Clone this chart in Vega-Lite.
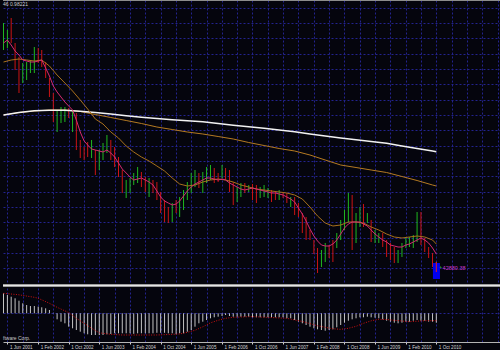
{
"$schema": "https://vega.github.io/schema/vega-lite/v6.json",
"background": "#05050d",
"padding": 0,
"spacing": 0,
"config": {"view": {"stroke": null}, "axis": {"title": null}},
"datasets": {
"px": [
{"d":"2001-05-01","h":261,"l":234,"dir":"up","f":241,"m":222,"s":169,"w":169,"hi":20,"sg":20},
{"d":"2001-06-01","h":254,"l":236,"dir":"up","f":244,"hi":18.3},
{"d":"2001-07-01","h":266,"l":241,"dir":"dn","f":239,"m":224,"hi":16.6},
{"d":"2001-08-01","h":241,"l":214,"dir":"dn","f":233,"hi":15},
{"d":"2001-09-01","h":227,"l":191,"dir":"dn","f":229,"m":225,"s":171.5,"w":171.5,"hi":12.6,"sg":18.5},
{"d":"2001-10-01","h":221,"l":201,"dir":"up","f":224,"hi":10},
{"d":"2001-11-01","h":222,"l":204,"dir":"up","f":223,"m":224,"hi":8.3},
{"d":"2001-12-01","h":224,"l":211,"dir":"up","f":222,"hi":7.3},
{"d":"2002-01-01","h":237,"l":211,"dir":"up","f":222,"m":223,"s":173,"w":173.2,"hi":7.3,"sg":16},
{"d":"2002-02-01","h":236,"l":221,"dir":"dn","f":223,"hi":6.6,"sg":15},
{"d":"2002-03-01","h":234,"l":217,"dir":"dn","f":224,"m":224,"hi":6},
{"d":"2002-04-01","h":222,"l":206,"dir":"dn","f":216,"hi":5},
{"d":"2002-05-01","h":206,"l":187,"dir":"dn","f":208,"m":218,"s":174,"w":173.8,"hi":3.3,"sg":10},
{"d":"2002-06-01","h":191,"l":162,"dir":"dn","f":198,"hi":0.5},
{"d":"2002-07-01","h":174,"l":152,"dir":"up","f":192,"m":209,"hi":-6,"sg":6},
{"d":"2002-08-01","h":177,"l":161,"dir":"up","f":187,"hi":-8.4},
{"d":"2002-09-01","h":177,"l":162,"dir":"up","f":182,"m":201,"s":174,"w":173.7,"hi":-10},
{"d":"2002-10-01","h":176,"l":166,"dir":"dn","f":178,"hi":-13.4,"sg":0.7},
{"d":"2002-11-01","h":174,"l":152,"dir":"up","f":174,"m":193,"hi":-15},
{"d":"2002-12-01","h":171,"l":134,"dir":"dn","f":164,"hi":-16.7,"sg":-5},
{"d":"2003-01-01","h":144,"l":126,"dir":"dn","f":152,"m":184,"s":172.5,"w":172.8,"hi":-18.4},
{"d":"2003-02-01","h":137,"l":124,"dir":"dn","f":143,"hi":-20,"sg":-10},
{"d":"2003-03-01","h":142,"l":127,"dir":"dn","f":139,"m":175,"hi":-21},
{"d":"2003-04-01","h":144,"l":126,"dir":"up","f":135,"hi":-21.7,"sg":-15},
{"d":"2003-05-01","h":134,"l":109,"dir":"dn","f":134,"m":165,"s":169.5,"w":171.5,"hi":-21.7},
{"d":"2003-06-01","h":134,"l":114,"dir":"up","f":133,"hi":-21.7,"sg":-19.5},
{"d":"2003-07-01","h":141,"l":124,"dir":"up","f":132,"m":160,"hi":-21.7},
{"d":"2003-08-01","h":149,"l":131,"dir":"up","f":134,"hi":-21},
{"d":"2003-09-01","h":144,"l":124,"dir":"dn","f":131,"m":152,"s":166.5,"w":170,"hi":-20.7,"sg":-21},
{"d":"2003-10-01","h":137,"l":117,"dir":"dn","f":127,"hi":-20},
{"d":"2003-11-01","h":127,"l":107,"dir":"dn","f":121,"m":146,"hi":-20},
{"d":"2003-12-01","h":114,"l":91,"dir":"dn","f":115,"hi":-20,"sg":-21.7},
{"d":"2004-01-01","h":104,"l":86,"dir":"up","f":111,"m":138,"s":163.5,"w":168.2,"hi":-20},
{"d":"2004-02-01","h":106,"l":91,"dir":"up","f":107,"hi":-20},
{"d":"2004-03-01","h":111,"l":99,"dir":"up","f":104,"m":132,"hi":-20.5},
{"d":"2004-04-01","h":117,"l":101,"dir":"up","f":105,"hi":-20},
{"d":"2004-05-01","h":112,"l":97,"dir":"dn","f":106,"m":127,"s":160.5,"w":166.7,"hi":-20},
{"d":"2004-06-01","h":107,"l":92,"dir":"dn","f":104,"hi":-20},
{"d":"2004-07-01","h":106,"l":87,"dir":"up","f":102,"m":123,"hi":-20},
{"d":"2004-08-01","h":104,"l":91,"dir":"dn","f":99,"hi":-20},
{"d":"2004-09-01","h":102,"l":84,"dir":"dn","f":93,"m":118,"s":157,"w":165.5,"hi":-19.5,"sg":-21.7},
{"d":"2004-10-01","h":92,"l":71,"dir":"dn","f":87,"hi":-19.5},
{"d":"2004-11-01","h":84,"l":62,"dir":"dn","f":83,"m":113,"hi":-19.5},
{"d":"2004-12-01","h":77,"l":61,"dir":"dn","f":81,"hi":-20},
{"d":"2005-01-01","h":81,"l":62,"dir":"up","f":79,"m":106,"s":154.5,"w":164.3,"hi":-20},
{"d":"2005-02-01","h":84,"l":71,"dir":"dn","f":80,"hi":-21},
{"d":"2005-03-01","h":87,"l":67,"dir":"up","f":83,"m":100,"hi":-20,"sg":-20.7},
{"d":"2005-04-01","h":94,"l":74,"dir":"up","f":88,"hi":-20},
{"d":"2005-05-01","h":102,"l":84,"dir":"up","f":93,"m":98,"s":152,"w":163.2,"hi":-18.4,"sg":-19},
{"d":"2005-06-01","h":111,"l":91,"dir":"up","f":97,"hi":-16.7},
{"d":"2005-07-01","h":114,"l":97,"dir":"up","f":100,"m":99,"hi":-13.4,"sg":-17},
{"d":"2005-08-01","h":111,"l":96,"dir":"dn","f":102,"hi":-10},
{"d":"2005-09-01","h":112,"l":91,"dir":"up","f":104,"m":102,"s":150,"w":162.3,"hi":-8.4,"sg":-13.5},
{"d":"2005-10-01","h":117,"l":101,"dir":"up","f":106,"hi":-6.7},
{"d":"2005-11-01","h":119,"l":104,"dir":"up","f":106,"m":104,"hi":-5,"sg":-9.5},
{"d":"2005-12-01","h":116,"l":101,"dir":"dn","f":105,"hi":-4},
{"d":"2006-01-01","h":111,"l":102,"dir":"dn","f":104,"m":105,"s":147.5,"w":160.5,"hi":-3.4,"sg":-7},
{"d":"2006-02-01","h":119,"l":106,"dir":"up","f":105,"hi":-2.7},
{"d":"2006-03-01","h":116,"l":104,"dir":"dn","f":104,"m":104,"hi":-1.7,"sg":-5},
{"d":"2006-04-01","h":114,"l":92,"dir":"dn","f":101,"hi":-2.7},
{"d":"2006-05-01","h":102,"l":79,"dir":"dn","f":99,"m":102,"s":145,"w":158.7,"hi":-3.4,"sg":-4},
{"d":"2006-06-01","h":97,"l":82,"dir":"up","f":97,"hi":-3.4},
{"d":"2006-07-01","h":101,"l":87,"dir":"up","f":95,"m":99,"hi":-3.4},
{"d":"2006-08-01","h":101,"l":91,"dir":"dn","f":94,"hi":-3.4},
{"d":"2006-09-01","h":99,"l":92,"dir":"up","f":95,"m":97,"s":141.5,"w":157.2,"hi":-3.4,"sg":-3.4},
{"d":"2006-10-01","h":100,"l":84,"dir":"dn","f":96,"hi":-4},
{"d":"2006-11-01","h":99,"l":81,"dir":"dn","f":95,"m":95,"hi":-4,"sg":-3.5},
{"d":"2006-12-01","h":97,"l":86,"dir":"up","f":94,"hi":-4},
{"d":"2007-01-01","h":99,"l":87,"dir":"up","f":93,"m":94,"s":138.5,"w":155.7,"hi":-4},
{"d":"2007-02-01","h":96,"l":86,"dir":"up","f":92,"hi":-4},
{"d":"2007-03-01","h":94,"l":82,"dir":"dn","f":91,"m":93,"hi":-4},
{"d":"2007-04-01","h":92,"l":84,"dir":"dn","f":91,"hi":-4},
{"d":"2007-05-01","h":94,"l":84,"dir":"up","f":90,"m":92,"s":135.5,"w":154,"hi":-4},
{"d":"2007-06-01","h":92,"l":86,"dir":"dn","f":89,"hi":-4},
{"d":"2007-07-01","h":91,"l":81,"dir":"dn","f":87,"m":91,"hi":-5,"sg":-5},
{"d":"2007-08-01","h":87,"l":77,"dir":"up","f":85,"hi":-5},
{"d":"2007-09-01","h":87,"l":69,"dir":"dn","f":82,"m":89,"s":133,"w":152.2,"hi":-6.7},
{"d":"2007-10-01","h":81,"l":67,"dir":"dn","f":76,"hi":-8.4},
{"d":"2007-11-01","h":71,"l":51,"dir":"dn","f":70,"m":85,"hi":-10,"sg":-8.2},
{"d":"2007-12-01","h":67,"l":44,"dir":"dn","f":63,"hi":-11.7},
{"d":"2008-01-01","h":54,"l":44,"dir":"dn","f":55,"m":77,"s":129,"w":150,"hi":-13.4},
{"d":"2008-02-01","h":44,"l":30,"dir":"dn","f":48,"hi":-15},
{"d":"2008-03-01","h":36,"l":11,"dir":"dn","f":43,"m":68,"hi":-16,"sg":-12.5},
{"d":"2008-04-01","h":34,"l":17,"dir":"up","f":39,"hi":-16.7},
{"d":"2008-05-01","h":41,"l":22,"dir":"up","f":38,"m":61,"s":124,"w":148,"hi":-17.4},
{"d":"2008-06-01","h":39,"l":26,"dir":"dn","f":38,"hi":-16.7},
{"d":"2008-07-01","h":44,"l":22,"dir":"dn","f":40,"m":58,"hi":-16,"sg":-15.5},
{"d":"2008-08-01","h":51,"l":36,"dir":"up","f":44,"hi":-14},
{"d":"2008-09-01","h":64,"l":44,"dir":"up","f":50,"m":59,"s":119,"w":146,"hi":-11.7,"sg":-16},
{"d":"2008-10-01","h":74,"l":54,"dir":"up","f":56,"hi":-9.4},
{"d":"2008-11-01","h":91,"l":62,"dir":"up","f":60,"m":62,"hi":-7.4,"sg":-15},
{"d":"2008-12-01","h":89,"l":34,"dir":"dn","f":62,"hi":-6},
{"d":"2009-01-01","h":71,"l":41,"dir":"up","f":62,"m":62,"s":116.5,"w":144.2,"hi":-5,"sg":-13},
{"d":"2009-02-01","h":77,"l":57,"dir":"up","f":62,"hi":-4},
{"d":"2009-03-01","h":80,"l":57,"dir":"dn","f":60,"m":61,"hi":-4,"sg":-10},
{"d":"2009-04-01","h":71,"l":61,"dir":"up","f":58,"hi":-3.4},
{"d":"2009-05-01","h":64,"l":42,"dir":"dn","f":54,"m":57,"s":114,"w":142.5,"hi":-4,"sg":-7.5},
{"d":"2009-06-01","h":54,"l":41,"dir":"up","f":50,"hi":-4.4},
{"d":"2009-07-01","h":51,"l":41,"dir":"up","f":47,"m":54,"hi":-5,"sg":-6},
{"d":"2009-08-01","h":51,"l":37,"dir":"dn","f":44,"hi":-6},
{"d":"2009-09-01","h":44,"l":27,"dir":"dn","f":42,"m":50,"s":111.5,"w":140.7,"hi":-7.4,"sg":-6.2},
{"d":"2009-10-01","h":41,"l":24,"dir":"dn","f":39,"hi":-8.4},
{"d":"2009-11-01","h":37,"l":21,"dir":"dn","f":38,"m":47,"hi":-9.4,"sg":-7},
{"d":"2009-12-01","h":34,"l":21,"dir":"up","f":37,"hi":-10},
{"d":"2010-01-01","h":41,"l":27,"dir":"up","f":37,"m":46,"s":107.5,"w":138,"hi":-9.4},
{"d":"2010-02-01","h":47,"l":36,"dir":"up","f":39,"hi":-8.4},
{"d":"2010-03-01","h":47,"l":37,"dir":"up","f":40,"m":47,"hi":-8.4,"sg":-8.4},
{"d":"2010-04-01","h":49,"l":36,"dir":"up","f":42,"hi":-7.4},
{"d":"2010-05-01","h":72,"l":42,"dir":"up","f":44,"m":48,"s":103.5,"w":135.5,"hi":-6.7},
{"d":"2010-06-01","h":72,"l":39,"dir":"dn","f":46,"hi":-7.4},
{"d":"2010-07-01","h":46,"l":32,"dir":"dn","f":44,"m":47,"hi":-7.4,"sg":-7.4},
{"d":"2010-08-01","h":37,"l":26,"dir":"dn","f":41,"hi":-8.4},
{"d":"2010-09-01","h":31,"l":17,"dir":"dn","f":36,"m":44,"s":99,"w":133,"hi":-8.4},
{"d":"2010-10-01","h":22,"l":9,"dir":"dn","f":30,"m":40,"s":98,"w":132.3,"hi":-9.4,"sg":-7.4}
]
},
"vconcat": [
{
"width": 500,
"height": 288,
"layer": [
{
"data": {"name": "px"},
"mark": {"type": "rule", "strokeWidth": 1},
"encoding": {
"x": {"field": "d", "type": "temporal",
"scale": {"type": "utc", "domain": [{"year":2001,"month":4,"date":27,"utc":true},{"year":2012,"month":3,"date":14,"utc":true}]},
"axis": {"orient": "bottom", "tickCount": 200, "grid": true, "gridColor": "#23238e", "gridDash": [2, 2], "gridWidth": 1, "labels": false, "ticks": false, "domain": false,
"values": [{"year":2001,"month":6,"date":1,"utc":true},{"year":2001,"month":10,"date":1,"utc":true},{"year":2002,"month":2,"date":1,"utc":true},{"year":2002,"month":6,"date":1,"utc":true},{"year":2002,"month":10,"date":1,"utc":true},{"year":2003,"month":2,"date":1,"utc":true},{"year":2003,"month":6,"date":1,"utc":true},{"year":2003,"month":10,"date":1,"utc":true},{"year":2004,"month":2,"date":1,"utc":true},{"year":2004,"month":6,"date":1,"utc":true},{"year":2004,"month":10,"date":1,"utc":true},{"year":2005,"month":2,"date":1,"utc":true},{"year":2005,"month":6,"date":1,"utc":true},{"year":2005,"month":10,"date":1,"utc":true},{"year":2006,"month":2,"date":1,"utc":true},{"year":2006,"month":6,"date":1,"utc":true},{"year":2006,"month":10,"date":1,"utc":true},{"year":2007,"month":2,"date":1,"utc":true},{"year":2007,"month":6,"date":1,"utc":true},{"year":2007,"month":10,"date":1,"utc":true},{"year":2008,"month":2,"date":1,"utc":true},{"year":2008,"month":6,"date":1,"utc":true},{"year":2008,"month":10,"date":1,"utc":true},{"year":2009,"month":2,"date":1,"utc":true},{"year":2009,"month":6,"date":1,"utc":true},{"year":2009,"month":10,"date":1,"utc":true},{"year":2010,"month":2,"date":1,"utc":true},{"year":2010,"month":6,"date":1,"utc":true},{"year":2010,"month":10,"date":1,"utc":true},{"year":2011,"month":2,"date":1,"utc":true},{"year":2011,"month":6,"date":1,"utc":true},{"year":2011,"month":10,"date":1,"utc":true},{"year":2012,"month":2,"date":1,"utc":true}]}},
"y": {"field": "l", "type": "quantitative",
"scale": {"domain": [-4, 284], "nice": false, "zero": false},
"axis": {"tickCount": 200, "grid": true, "gridColor": "#23238e", "gridDash": [2, 2], "labels": false, "ticks": false, "domain": false,
"values": [276, 261, 246, 230, 215, 200, 184, 169, 154, 138, 123, 108, 92, 77, 62, 46, 31, 16]}},
"y2": {"field": "h"},
"color": {"field": "dir", "type": "nominal", "scale": {"domain": ["up", "dn"], "range": ["#1fb81f", "#cc1414"]}, "legend": null}
}
},
{
"data": {"name": "px"},
"transform": [{"filter": "isValid(datum.s)"}],
"mark": {"type": "line", "color": "#b57a22", "strokeWidth": 1},
"encoding": {"x": {"field": "d", "type": "temporal"}, "y": {"field": "s", "type": "quantitative"}}
},
{
"data": {"name": "px"},
"transform": [{"filter": "isValid(datum.w)"}],
"mark": {"type": "line", "color": "#f2f2f2", "strokeWidth": 1.5},
"encoding": {"x": {"field": "d", "type": "temporal"}, "y": {"field": "w", "type": "quantitative"}}
},
{
"data": {"name": "px"},
"transform": [{"filter": "isValid(datum.m)"}],
"mark": {"type": "line", "color": "#a8701c", "strokeWidth": 1},
"encoding": {"x": {"field": "d", "type": "temporal"}, "y": {"field": "m", "type": "quantitative"}}
},
{
"data": {"name": "px"},
"mark": {"type": "line", "color": "#d62a72", "strokeWidth": 1},
"encoding": {"x": {"field": "d", "type": "temporal"}, "y": {"field": "f", "type": "quantitative"}}
},
{
"data": {"values": [{"lo": 5, "hi": 21}]},
"mark": {"type": "rect", "color": "#0000f0"},
"encoding": {
"x": {"datum": {"year":2010,"month":9,"date":4,"utc":true}, "type": "temporal"},
"x2": {"datum": {"year":2010,"month":10,"date":30,"utc":true}},
"y": {"field": "lo", "type": "quantitative"},
"y2": {"field": "hi"}
}
},
{
"data": {"values": [{"v": 22}]},
"mark": {"type": "rule", "color": "#e02020", "strokeWidth": 1},
"encoding": {
"x": {"datum": {"year":2010,"month":10,"date":1,"utc":true}, "type": "temporal"},
"y": {"field": "v", "type": "quantitative"},
"y2": {"datum": 12}
}
},
{
"data": {"values": [{"t": "42880.38", "v": 16}]},
"mark": {"type": "text", "color": "#c838c8", "align": "left", "baseline": "middle", "font": "Liberation Sans", "fontSize": 5.5},
"encoding": {
"x": {"datum": {"year":2010,"month":11,"date":20,"utc":true}, "type": "temporal"},
"y": {"field": "v", "type": "quantitative"},
"text": {"field": "t"}
}
},
{
"data": {"values": [{"v": 17}]},
"mark": {"type": "point", "shape": "triangle-up", "filled": true, "color": "#30c030", "size": 6},
"encoding": {
"x": {"datum": {"year":2010,"month":11,"date":4,"utc":true}, "type": "temporal"},
"y": {"field": "v", "type": "quantitative"}
}
},
{
"data": {"values": [{"t": "46 0.98221", "v": 280}]},
"mark": {"type": "text", "color": "#c8c8c8", "align": "left", "baseline": "middle", "font": "Liberation Sans", "fontSize": 5},
"encoding": {
"x": {"datum": {"year":2001,"month":4,"date":27,"utc":true}, "type": "temporal"},
"y": {"field": "v", "type": "quantitative"},
"text": {"field": "t"}
}
},
{
"data": {"values": [{}]},
"mark": {"type": "rule", "color": "#8c8c8c", "strokeWidth": 1},
"encoding": {"y": {"datum": 283.5}}
},
{
"data": {"values": [{}]},
"mark": {"type": "rule", "color": "#9c9c9c", "strokeWidth": 3},
"encoding": {"y": {"datum": -1.5}}
},
{
"data": {"values": [{}]},
"mark": {"type": "rule", "color": "#e6e6e6", "strokeWidth": 1},
"encoding": {"y": {"datum": -1.5}}
}
]
},
{
"width": 500,
"height": 54,
"resolve": {"axis": {"x": "independent"}},
"layer": [
{
"data": {"name": "px"},
"mark": {"type": "rule", "color": "#c4c4c4", "strokeWidth": 1},
"encoding": {
"x": {"field": "d", "type": "temporal",
"scale": {"type": "utc", "domain": [{"year":2001,"month":4,"date":27,"utc":true},{"year":2012,"month":3,"date":14,"utc":true}]},
"axis": {"orient": "top", "tickCount": 200, "grid": true, "gridColor": "#23238e", "gridDash": [2, 2], "labels": false, "ticks": false, "domain": false,
"values": [{"year":2001,"month":6,"date":1,"utc":true},{"year":2001,"month":10,"date":1,"utc":true},{"year":2002,"month":2,"date":1,"utc":true},{"year":2002,"month":6,"date":1,"utc":true},{"year":2002,"month":10,"date":1,"utc":true},{"year":2003,"month":2,"date":1,"utc":true},{"year":2003,"month":6,"date":1,"utc":true},{"year":2003,"month":10,"date":1,"utc":true},{"year":2004,"month":2,"date":1,"utc":true},{"year":2004,"month":6,"date":1,"utc":true},{"year":2004,"month":10,"date":1,"utc":true},{"year":2005,"month":2,"date":1,"utc":true},{"year":2005,"month":6,"date":1,"utc":true},{"year":2005,"month":10,"date":1,"utc":true},{"year":2006,"month":2,"date":1,"utc":true},{"year":2006,"month":6,"date":1,"utc":true},{"year":2006,"month":10,"date":1,"utc":true},{"year":2007,"month":2,"date":1,"utc":true},{"year":2007,"month":6,"date":1,"utc":true},{"year":2007,"month":10,"date":1,"utc":true},{"year":2008,"month":2,"date":1,"utc":true},{"year":2008,"month":6,"date":1,"utc":true},{"year":2008,"month":10,"date":1,"utc":true},{"year":2009,"month":2,"date":1,"utc":true},{"year":2009,"month":6,"date":1,"utc":true},{"year":2009,"month":10,"date":1,"utc":true},{"year":2010,"month":2,"date":1,"utc":true},{"year":2010,"month":6,"date":1,"utc":true},{"year":2010,"month":10,"date":1,"utc":true},{"year":2011,"month":2,"date":1,"utc":true},{"year":2011,"month":6,"date":1,"utc":true},{"year":2011,"month":10,"date":1,"utc":true},{"year":2012,"month":2,"date":1,"utc":true}]}},
"y": {"field": "hi", "type": "quantitative",
"scale": {"domain": [-28.7, 25.3], "nice": false, "zero": false},
"axis": {"grid": true, "gridColor": "#23238e", "gridDash": [2, 2], "labels": false, "ticks": false, "domain": false, "values": [0]}},
"y2": {"datum": 0}
}
},
{
"data": {"name": "px"},
"transform": [{"filter": "isValid(datum.sg)"}],
"mark": {"type": "line", "color": "#d01010", "strokeWidth": 1, "strokeDash": [1, 1.5]},
"encoding": {
"x": {"field": "d", "type": "temporal",
"axis": {"orient": "bottom", "tickCount": 200, "grid": false, "labels": true, "ticks": true, "domain": true,
"domainColor": "#b4b4b4", "tickColor": "#d0d0d0", "tickSize": 2, "labelColor": "#d4d4d4",
"labelFont": "Liberation Sans", "labelFontSize": 4.6, "labelAlign": "left", "labelBaseline": "top",
"labelPadding": 0.5, "labelOffset": 2, "labelOverlap": false, "labelFlush": false, "labelBound": false,
"format": "%-d %b %Y",
"values": [{"year":2001,"month":6,"date":1,"utc":true},{"year":2002,"month":2,"date":1,"utc":true},{"year":2002,"month":10,"date":1,"utc":true},{"year":2003,"month":6,"date":1,"utc":true},{"year":2004,"month":2,"date":1,"utc":true},{"year":2004,"month":10,"date":1,"utc":true},{"year":2005,"month":6,"date":1,"utc":true},{"year":2006,"month":2,"date":1,"utc":true},{"year":2006,"month":10,"date":1,"utc":true},{"year":2007,"month":6,"date":1,"utc":true},{"year":2008,"month":2,"date":1,"utc":true},{"year":2008,"month":10,"date":1,"utc":true},{"year":2009,"month":6,"date":1,"utc":true},{"year":2010,"month":2,"date":1,"utc":true},{"year":2010,"month":10,"date":1,"utc":true}]}},
"y": {"field": "sg", "type": "quantitative"}
}
},
{
"data": {"values": [{"t": "ftware Corp.", "v": -24.2}]},
"mark": {"type": "text", "color": "#c8c8c8", "align": "left", "baseline": "middle", "font": "Liberation Sans", "fontSize": 5},
"encoding": {
"x": {"datum": {"year":2001,"month":4,"date":27,"utc":true}, "type": "temporal", "axis": null},
"y": {"field": "v", "type": "quantitative"},
"text": {"field": "t"}
}
}
]
}
]
}
